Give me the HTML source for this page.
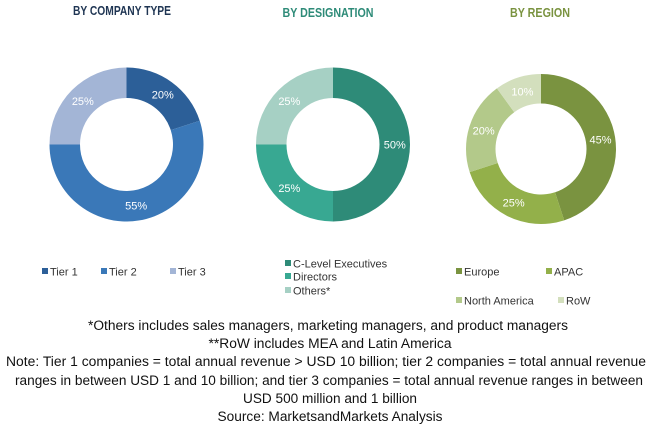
<!DOCTYPE html>
<html><head><meta charset="utf-8"><style>
body{margin:0;background:#fff;}
svg{display:block;font-family:"Liberation Sans",sans-serif;}
</style></head><body>
<svg id="chart" width="650" height="427" viewBox="0 0 650 427">
<text x="122" y="15" text-anchor="middle" font-size="12.5" font-weight="bold" fill="#1f3553" textLength="98" lengthAdjust="spacingAndGlyphs">BY COMPANY TYPE</text>
<text x="328" y="17" text-anchor="middle" font-size="12.5" font-weight="bold" fill="#2e8b78" textLength="91" lengthAdjust="spacingAndGlyphs">BY DESIGNATION</text>
<text x="540" y="17" text-anchor="middle" font-size="12.5" font-weight="bold" fill="#7a9340" textLength="60" lengthAdjust="spacingAndGlyphs">BY REGION</text>
<g id="donuts"></g>
<g id="legends" font-size="11" fill="#333"></g>
<g font-size="13.5" fill="#111" text-anchor="middle">
<text x="328" y="330" textLength="480" lengthAdjust="spacingAndGlyphs">*Others includes sales managers, marketing managers, and product managers</text>
<text x="330" y="348" textLength="243" lengthAdjust="spacingAndGlyphs">**RoW includes MEA and Latin America</text>
<text x="326" y="366" textLength="640" lengthAdjust="spacingAndGlyphs">Note: Tier 1 companies = total annual revenue &gt; USD 10 billion; tier 2 companies = total annual revenue</text>
<text x="329" y="385" textLength="628" lengthAdjust="spacingAndGlyphs">ranges in between USD 1 and 10 billion; and tier 3 companies = total annual revenue ranges in between</text>
<text x="330" y="403" textLength="174" lengthAdjust="spacingAndGlyphs">USD 500 million and 1 billion</text>
<text x="330" y="421" textLength="225" lengthAdjust="spacingAndGlyphs">Source: MarketsandMarkets Analysis</text>
</g>
</svg>
<script>
const companyCategories = ["Tier 1","Tier 2","Tier 3"];
const companyValues = [20,55,25];
const designationCategories = ["C-Level Executives","Directors","Others*"];
const designationValues = [50,25,25];
const regionCategories = ["Europe","APAC","North America","RoW"];
const regionValues = [45,25,20,10];

const NS="http://www.w3.org/2000/svg";
const donutG=document.getElementById('donuts');
const legG=document.getElementById('legends');
function mk(tag,attrs,parent){const e=document.createElementNS(NS,tag);for(const k in attrs)e.setAttribute(k,attrs[k]);parent.appendChild(e);return e;}
function donut(cx,cy,ro,ri,vals,colors,key){
  const total=vals.reduce((a,b)=>a+b,0);let acc=0;
  vals.forEach((v,i)=>{
    const a0=acc/total*2*Math.PI, a1=(acc+v)/total*2*Math.PI; acc+=v;
    const p=(a,r)=>[cx+r*Math.sin(a),cy-r*Math.cos(a)];
    const lg=(a1-a0)>Math.PI?1:0;
    const [x0,y0]=p(a0,ro),[x1,y1]=p(a1,ro),[x2,y2]=p(a1,ri),[x3,y3]=p(a0,ri);
    const path=mk('path',{d:`M${x0},${y0}A${ro},${ro} 0 ${lg} 1 ${x1},${y1}L${x2},${y2}A${ri},${ri} 0 ${lg} 0 ${x3},${y3}Z`,fill:colors[i]},donutG);
    
    
    const am=(a0+a1)/2,[lx,ly]=p(am,(ro+ri)/2);
    const t=mk('text',{x:lx,y:ly+4,'text-anchor':'middle','font-size':'11',fill:'#fff'},donutG);
    t.textContent=v+'%';
    
    
  });
}
function legend(items,colors,pos,key){
  items.forEach((c,i)=>{
    const [x,y]=pos[i];
    const r=mk('rect',{x:x,y:y-4,width:6,height:6,fill:colors[i]},legG);
    
    
    const t=mk('text',{x:x+8,y:y+3.5},legG);
    t.textContent=c;
    
    
  });
}
const cC=["#2c5f98","#3a78b8","#a3b5d6"];
const dC=["#2e8b78","#38a892","#a6d0c4"];
const rC=["#7a9340","#93b04a","#b3c98a","#d3dfbd"];
donut(126.5,144.5,77,46.5,companyValues,cC,'company');
donut(333,144.5,77,46.5,designationValues,dC,'designation');
donut(541,149,75,45.5,regionValues,rC,'region');
legend(companyCategories,cC,[[42,272],[101,272],[170,272]],'company');
legend(designationCategories,dC,[[285,264],[285,277],[285,291]],'designation');
legend(regionCategories,rC,[[456,272],[546,272],[456,301],[558,301]],'region');
</script>
</body></html>
